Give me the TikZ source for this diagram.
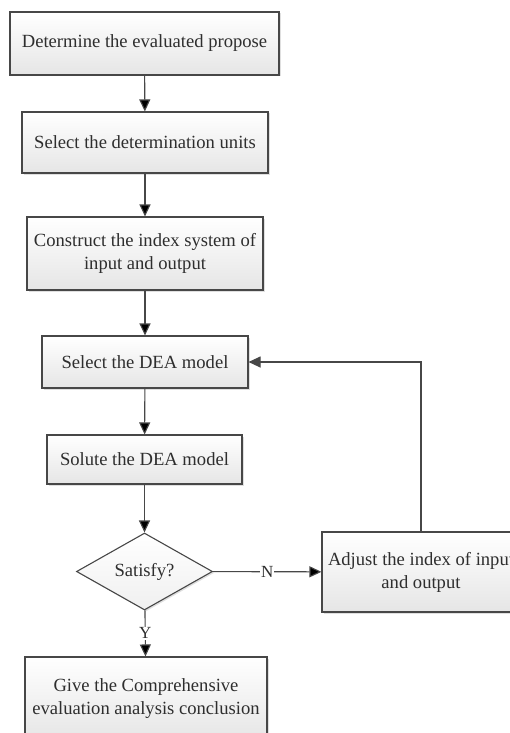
\documentclass[tikz,border=0pt]{standalone}
\usepackage{fontspec}
\setmainfont{Liberation Serif}
\usetikzlibrary{shapes.geometric,arrows.meta,shadows}

\begin{document}
\begin{tikzpicture}[x=1pt,y=-1pt]
  \tikzset{stage/.style={draw=black!72, line width=1.1pt, top color=white, bottom color=black!10,
      drop shadow={shadow xshift=1.5pt, shadow yshift=-1.5pt, fill=black!25, opacity=.5},
      inner sep=0pt, align=center, text=black!82, font=\fontsize{18.6}{23}\selectfont}}
  \tikzset{check/.style={stage, diamond, aspect=1.77, bottom color=black!6}}
  \tikzset{flow/.style={draw=black!72, line width=1.1pt, -{Triangle[length=12pt,width=11pt]}}}
  \tikzset{answer/.style={fill=white, inner sep=1pt, text=black!82, font=\fontsize{17}{20}\selectfont}}
  \clip (0,0) rectangle (510,733);

    \node[stage, minimum width=269pt, minimum height=63pt] at (144.5,43.5) (det) {Determine the evaluated propose};
    \node[stage, minimum width=246pt, minimum height=61pt] at (145,142.5) (sel) {Select the determination units};
    \node[stage, minimum width=236pt, minimum height=73pt] at (145,253.5) (con) {Construct the index system of\\input and output};
    \node[stage, minimum width=206pt, minimum height=52pt] at (145,362) (dea) {Select the DEA model};
    \node[stage, minimum width=195pt, minimum height=49pt] at (144.5,459.5) (sol) {Solute the DEA model};
    \node[check, minimum width=136pt, minimum height=77pt] at (144.5,571.5) (sat) {Satisfy?};
    \node[stage, minimum width=198pt, minimum height=80pt] at (421,572) (adj) {Adjust the index of input\\and output};
    \node[stage, minimum width=242pt, minimum height=84pt] at (146,699) (giv) {Give the Comprehensive\\evaluation analysis conclusion};

	\path[flow] (det) edge node {} (sel);
	\path[flow] (sel) edge node {} (con);
	\path[flow] (con) edge node {} (dea);
	\path[flow] (dea) edge node {} (sol);
	\path[flow] (sol) edge node {} (sat);
	\path[flow] (sat) edge node[answer] {N} (adj);
	\path[flow] (sat) edge node[answer] {Y} (giv);
	\draw[flow] (adj) |- (dea);

  \end{tikzpicture}
\end{document}
